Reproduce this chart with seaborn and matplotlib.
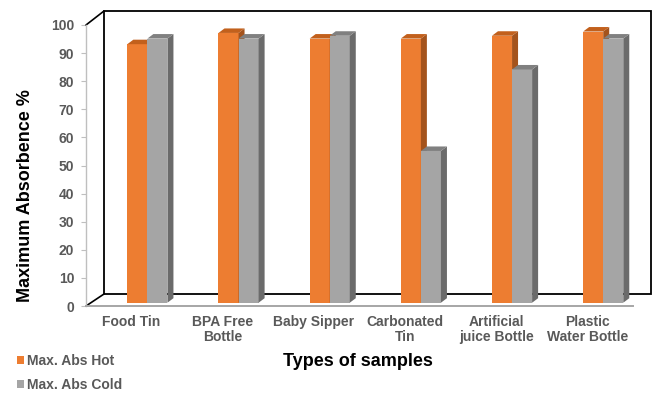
import matplotlib
matplotlib.use("Agg")
import matplotlib.pyplot as plt
import matplotlib.transforms as mtransforms
from matplotlib.patches import Polygon, Rectangle, Patch
from matplotlib.lines import Line2D
import pandas as pd
import seaborn as sns

# ---- data -------------------------------------------------------------
samples = ["Food Tin", "BPA Free\nBottle", "Baby Sipper", "Carbonated\nTin",
           "Artificial\njuice Bottle", "Plastic\nWater Bottle"]
abs_hot = [92, 96, 94, 94, 95, 96.5]
abs_cold = [94, 94, 95, 54, 83, 94]
series_names = ["Max. Abs Hot", "Max. Abs Cold"]
y_ticks = list(range(0, 101, 10))

df = pd.DataFrame({
    "sample": samples * 2,
    "series": [series_names[0]] * len(samples) + [series_names[1]] * len(samples),
    "value": abs_hot + abs_cold,
})

# ---- style ------------------------------------------------------------
sns.set_theme(style="white")
plt.rcParams["font.family"] = ["Liberation Sans", "DejaVu Sans"]

front_c = {"Max. Abs Hot": "#ED7D31", "Max. Abs Cold": "#A5A5A5"}
top_c = {"Max. Abs Hot": "#C2601C", "Max. Abs Cold": "#808080"}
side_c = {"Max. Abs Hot": "#A4531C", "Max. Abs Cold": "#6B6B6B"}
tick_grey = "#595959"

W, H, DPI = 657, 393, 100
fig = plt.figure(figsize=(W / DPI, H / DPI), dpi=DPI)
fig.patch.set_facecolor("white")

# front plane of the plot box (pixels)
x_left, x_right, y_zero, y_top = 86, 633, 306, 25
ax = fig.add_axes([x_left / W, 1 - y_zero / H,
                   (x_right - x_left) / W, (y_zero - y_top) / H])

sns.barplot(data=df, x="sample", y="value", hue="series",
            order=samples, hue_order=series_names, palette=front_c,
            width=0.44, saturation=1, errorbar=None, linewidth=0,
            ax=ax)

ax.set_xlim(-0.5, len(samples) - 0.5)
ax.set_ylim(0, 100)

px_x = (x_right - x_left) / len(samples)   # pixels per category
px_y = (y_zero - y_top) / 100.0            # pixels per percent

# bars sit a little behind the front plane: shift them right and up
bar_tr = ax.transData + mtransforms.ScaledTranslation(15.8 / DPI, 3.3 / DPI,
                                                      fig.dpi_scale_trans)
ddx = 6.0 / px_x      # bar depth, horizontal
ddy = 4.5 / px_y      # bar depth, vertical

for k, (cont, name) in enumerate(zip(ax.containers, series_names)):
    z = 2 + k
    for rect in cont:
        rect.set_transform(bar_tr)
        rect.set_zorder(z)
        rect.set_clip_on(False)
        x0, w, h = rect.get_x(), rect.get_width(), rect.get_height()
        side = Polygon([(x0 + w, 0), (x0 + w + ddx, ddy),
                        (x0 + w + ddx, h + ddy), (x0 + w, h)],
                       closed=True, transform=bar_tr, facecolor=side_c[name],
                       edgecolor="none", zorder=z + 0.1, clip_on=False)
        top = Polygon([(x0, h), (x0 + ddx, h + ddy),
                       (x0 + w + ddx, h + ddy), (x0 + w, h)],
                      closed=True, transform=bar_tr, facecolor=top_c[name],
                      edgecolor="none", zorder=z + 0.1, clip_on=False)
        ax.add_patch(side)
        ax.add_patch(top)

# back wall and the depth edges of the box
wall_x0 = -0.5 + (104 - x_left) / px_x
wall_x1 = -0.5 + (651 - x_left) / px_x
wall_y0 = (y_zero - 294) / px_y
wall_y1 = (y_zero - 11) / px_y
ax.add_patch(Rectangle((wall_x0, wall_y0), wall_x1 - wall_x0, wall_y1 - wall_y0,
                       facecolor="white", edgecolor="black", linewidth=1.3,
                       zorder=0.5, clip_on=False))
ax.add_line(Line2D([-0.5, wall_x0], [0, wall_y0], color="black", lw=1.2,
                   zorder=0.6, clip_on=False))
ax.add_line(Line2D([-0.5, wall_x0], [100, wall_y1], color="black", lw=1.2,
                   zorder=0.6, clip_on=False))

ax.set_xlim(-0.5, len(samples) - 0.5)
ax.set_ylim(0, 100)

# ---- axes decorations --------------------------------------------------
for s in ("top", "right"):
    ax.spines[s].set_visible(False)
ax.spines["left"].set_color("#BFBFBF")
ax.spines["left"].set_linewidth(1.0)
ax.spines["bottom"].set_color("#A6A6A6")
ax.spines["bottom"].set_linewidth(1.4)

ax.set_yticks(y_ticks)
ax.set_yticklabels([str(t) for t in y_ticks])
ax.tick_params(axis="y", length=3.5, width=0.8, color="#BFBFBF", pad=5,
               labelsize=10, labelcolor=tick_grey, left=True)
ax.tick_params(axis="x", length=0, pad=6.5, labelsize=10, labelcolor=tick_grey)
ax.set_xticks(range(len(samples)))
ax.set_xticklabels(samples, linespacing=1.05)
for lab in ax.get_xticklabels() + ax.get_yticklabels():
    lab.set_fontweight("bold")

ax.set_xlabel("Types of samples", fontsize=13, fontweight="bold", color="black")
ax.set_ylabel("Maximum Absorbence %", fontsize=13, fontweight="bold", color="black")
ax.xaxis.set_label_coords((358 - x_left) / (x_right - x_left),
                          (y_zero - 361.5) / (y_zero - y_top))
ax.xaxis.label.set_va("center")
ax.yaxis.set_label_coords((25.5 - x_left) / (x_right - x_left),
                          (y_zero - 196) / (y_zero - y_top))
ax.yaxis.label.set_va("center")

# legend in the lower-left corner
old = ax.get_legend()
if old is not None:
    old.remove()
handles = [Patch(facecolor=front_c[n], edgecolor="none") for n in series_names]
leg = fig.legend(handles, series_names, loc="center left",
                 bbox_to_anchor=(17 / W, 1 - 373 / H), frameon=False,
                 fontsize=10, handlelength=0.5, handleheight=0.5,
                 handletextpad=0.2, labelspacing=0.75, borderpad=0,
                 borderaxespad=0)
for t in leg.get_texts():
    t.set_color(tick_grey)
    t.set_fontweight("bold")

fig.savefig("out.png", dpi=DPI, facecolor="white")
